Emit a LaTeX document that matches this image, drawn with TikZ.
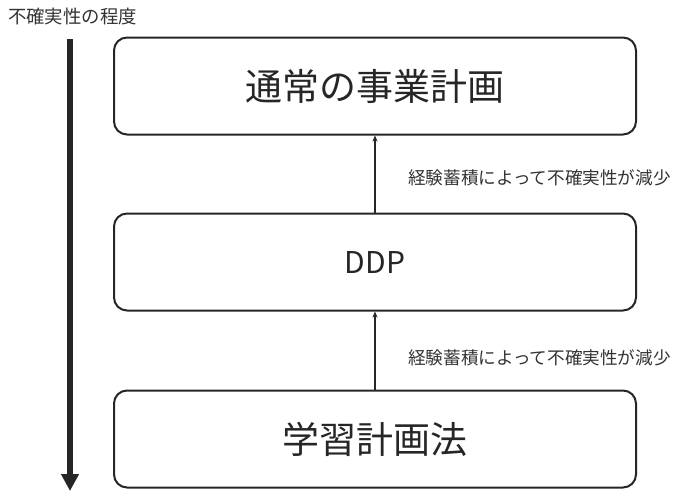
\documentclass[tikz,border=0pt]{standalone}
\usepackage{fontspec}
\setmainfont{Noto Sans CJK JP}
\usetikzlibrary{arrows.meta}
\begin{document}
\begin{tikzpicture}[x=1pt,y=-1pt,
  stage/.style={draw=black!85, line width=2pt, rounded corners=13pt, minimum width=522pt, minimum height=97pt, inner sep=0pt, text=black!85},
  flow/.style={draw=black!85, line width=1.4pt, -{Stealth[length=6pt,width=5pt]}},
  note/.style={font=\fontsize{17.6}{20}\selectfont, text=black!80, anchor=west, inner sep=0pt}]
\useasboundingbox (0,0) rectangle (685,491);
\node[stage] (plan) at (375,86) {\fontsize{37}{42}\selectfont 通常の事業計画};
\node[stage] (ddp) at (375,262) {\fontsize{30}{34}\selectfont DDP};
\node[stage] (learn) at (375,439) {\fontsize{37}{42}\selectfont 学習計画法};
\draw[flow] (ddp.north) -- (plan.south);
\draw[flow] (learn.north) -- (ddp.south);
\node[note] (n1) at (408,178) {経験蓄積によって不確実性が減少};
\node[note] (n2) at (408,358) {経験蓄積によって不確実性が減少};
\node[note, font=\fontsize{18.4}{21}\selectfont] (deg) at (8,17) {不確実性の程度};
\coordinate (top) at (70,39);
\coordinate (bot) at (70,491);
\draw[line width=6pt, draw=black!85, -{Triangle[length=17pt,width=17pt]}] (top) -- (bot);
\end{tikzpicture}
\end{document}
